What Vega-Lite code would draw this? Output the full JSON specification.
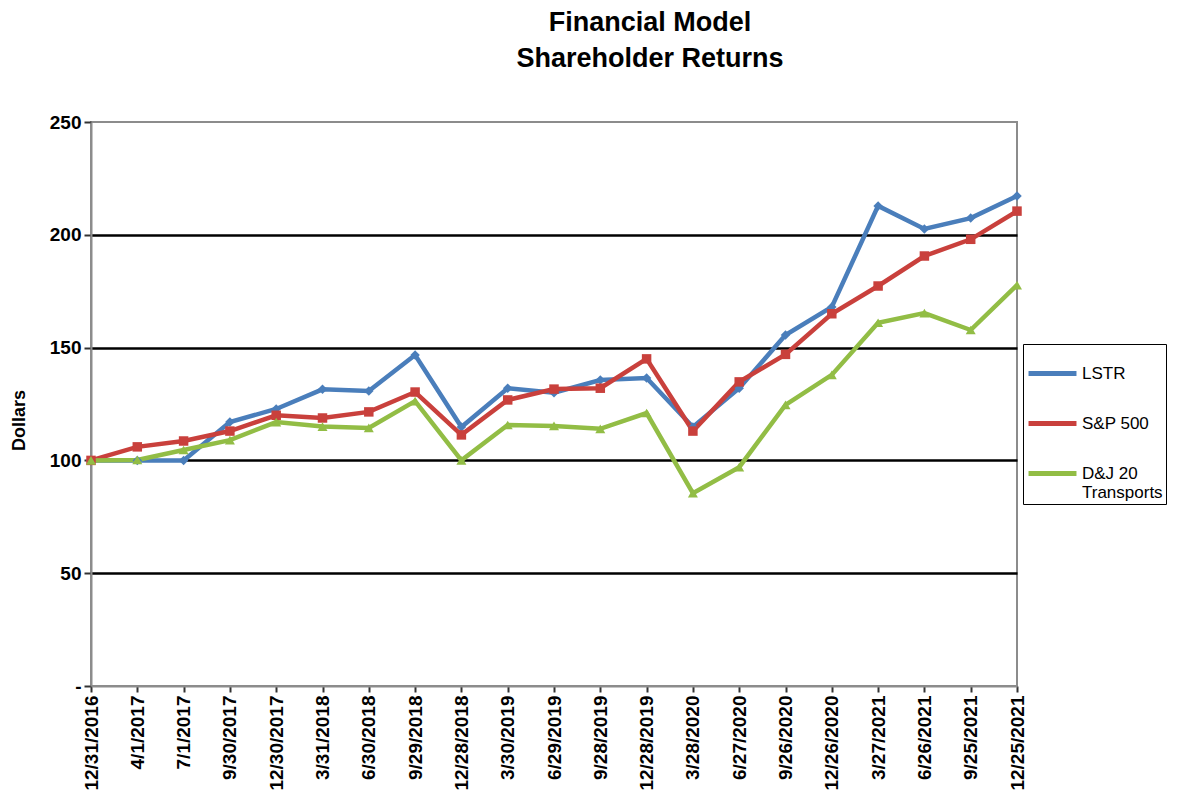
{
  "$schema": "https://vega.github.io/schema/vega-lite/v6.json",
  "autosize": {"type": "none"},
  "width": 926,
  "height": 564,
  "padding": {"left": 91, "top": 122, "right": 181, "bottom": 117},
  "background": "white",
  "config": {
    "font": "Liberation Sans",
    "view": {"stroke": "#8c8c8c", "strokeWidth": 2}
  },
  "title": {
    "text": ["Financial Model", "Shareholder Returns"],
    "font": "Liberation Sans",
    "fontSize": 27,
    "fontWeight": "bold",
    "color": "black",
    "lineHeight": 36,
    "anchor": "middle",
    "dx": 96,
    "offset": 40
  },
  "data": {
    "values": [
      {"date": "12/31/2016", "series": "LSTR", "value": 100},
      {"date": "4/1/2017", "series": "LSTR", "value": 100},
      {"date": "7/1/2017", "series": "LSTR", "value": 100},
      {"date": "9/30/2017", "series": "LSTR", "value": 117},
      {"date": "12/30/2017", "series": "LSTR", "value": 122.8},
      {"date": "3/31/2018", "series": "LSTR", "value": 131.5},
      {"date": "6/30/2018", "series": "LSTR", "value": 130.8},
      {"date": "9/29/2018", "series": "LSTR", "value": 146.7},
      {"date": "12/28/2018", "series": "LSTR", "value": 114.8},
      {"date": "3/30/2019", "series": "LSTR", "value": 132},
      {"date": "6/29/2019", "series": "LSTR", "value": 130},
      {"date": "9/28/2019", "series": "LSTR", "value": 135.6},
      {"date": "12/28/2019", "series": "LSTR", "value": 136.5},
      {"date": "3/28/2020", "series": "LSTR", "value": 114.8},
      {"date": "6/27/2020", "series": "LSTR", "value": 132},
      {"date": "9/26/2020", "series": "LSTR", "value": 155.6},
      {"date": "12/26/2020", "series": "LSTR", "value": 168},
      {"date": "3/27/2021", "series": "LSTR", "value": 212.8},
      {"date": "6/26/2021", "series": "LSTR", "value": 202.6},
      {"date": "9/25/2021", "series": "LSTR", "value": 207.4},
      {"date": "12/25/2021", "series": "LSTR", "value": 217.2},
      {"date": "12/31/2016", "series": "S&P 500", "value": 100},
      {"date": "4/1/2017", "series": "S&P 500", "value": 106},
      {"date": "7/1/2017", "series": "S&P 500", "value": 108.6},
      {"date": "9/30/2017", "series": "S&P 500", "value": 113},
      {"date": "12/30/2017", "series": "S&P 500", "value": 120},
      {"date": "3/31/2018", "series": "S&P 500", "value": 118.8},
      {"date": "6/30/2018", "series": "S&P 500", "value": 121.5},
      {"date": "9/29/2018", "series": "S&P 500", "value": 130.3},
      {"date": "12/28/2018", "series": "S&P 500", "value": 111.3},
      {"date": "3/30/2019", "series": "S&P 500", "value": 126.8},
      {"date": "6/29/2019", "series": "S&P 500", "value": 131.6},
      {"date": "9/28/2019", "series": "S&P 500", "value": 132},
      {"date": "12/28/2019", "series": "S&P 500", "value": 145},
      {"date": "3/28/2020", "series": "S&P 500", "value": 113},
      {"date": "6/27/2020", "series": "S&P 500", "value": 134.8},
      {"date": "9/26/2020", "series": "S&P 500", "value": 147},
      {"date": "12/26/2020", "series": "S&P 500", "value": 165},
      {"date": "3/27/2021", "series": "S&P 500", "value": 177.3},
      {"date": "6/26/2021", "series": "S&P 500", "value": 190.6},
      {"date": "9/25/2021", "series": "S&P 500", "value": 198},
      {"date": "12/25/2021", "series": "S&P 500", "value": 210.5},
      {"date": "12/31/2016", "series": "D&J 20 Transports", "value": 100},
      {"date": "4/1/2017", "series": "D&J 20 Transports", "value": 100.2},
      {"date": "7/1/2017", "series": "D&J 20 Transports", "value": 104.6},
      {"date": "9/30/2017", "series": "D&J 20 Transports", "value": 109},
      {"date": "12/30/2017", "series": "D&J 20 Transports", "value": 117},
      {"date": "3/31/2018", "series": "D&J 20 Transports", "value": 115},
      {"date": "6/30/2018", "series": "D&J 20 Transports", "value": 114.4},
      {"date": "9/29/2018", "series": "D&J 20 Transports", "value": 126.3},
      {"date": "12/28/2018", "series": "D&J 20 Transports", "value": 100},
      {"date": "3/30/2019", "series": "D&J 20 Transports", "value": 115.7},
      {"date": "6/29/2019", "series": "D&J 20 Transports", "value": 115.3},
      {"date": "9/28/2019", "series": "D&J 20 Transports", "value": 114},
      {"date": "12/28/2019", "series": "D&J 20 Transports", "value": 121},
      {"date": "3/28/2020", "series": "D&J 20 Transports", "value": 85.5},
      {"date": "6/27/2020", "series": "D&J 20 Transports", "value": 97},
      {"date": "9/26/2020", "series": "D&J 20 Transports", "value": 124.6},
      {"date": "12/26/2020", "series": "D&J 20 Transports", "value": 137.9},
      {"date": "3/27/2021", "series": "D&J 20 Transports", "value": 161},
      {"date": "6/26/2021", "series": "D&J 20 Transports", "value": 165.3},
      {"date": "9/25/2021", "series": "D&J 20 Transports", "value": 157.8},
      {"date": "12/25/2021", "series": "D&J 20 Transports", "value": 177.7}
    ]
  },
  "encoding": {
    "x": {
      "field": "date",
      "type": "ordinal",
      "sort": null,
      "scale": {"type": "point", "padding": 0},
      "axis": {
        "title": null,
        "labelAngle": -90,
        "labelFont": "Liberation Sans",
        "labelFontSize": 19,
        "labelFontWeight": "bold",
        "labelColor": "black",
        "labelPadding": 3,
        "labelOverlap": false,
        "domainColor": "#8c8c8c",
        "domainWidth": 2,
        "tickColor": "#333333",
        "tickWidth": 2,
        "tickSize": 6,
        "grid": false
      }
    },
    "y": {
      "field": "value",
      "type": "quantitative",
      "scale": {"domain": [0, 250], "nice": false, "zero": true},
      "axis": {
        "title": "Dollars",
        "titleFont": "Liberation Sans",
        "titleFontSize": 18,
        "titleFontWeight": "bold",
        "titleColor": "black",
        "titleX": -72,
        "titleY": 298,
        "titleAlign": "center",
        "titleBaseline": "middle",
        "titleAngle": -90,
        "values": [0, 50, 100, 150, 200, 250],
        "labelExpr": "datum.value == 0 ? '-' : datum.label",
        "labelFont": "Liberation Sans",
        "labelFontSize": 19,
        "labelFontWeight": "bold",
        "labelColor": "black",
        "labelPadding": 3,
        "domainColor": "#8c8c8c",
        "domainWidth": 2,
        "tickColor": "#333333",
        "tickWidth": 2,
        "tickSize": 7,
        "grid": true,
        "gridColor": {"condition": {"test": "datum.value == 0 || datum.value == 250", "value": "transparent"}, "value": "black"},
        "gridWidth": 2.5
      }
    },
    "color": {
      "field": "series",
      "type": "nominal",
      "sort": ["LSTR", "S&P 500", "D&J 20 Transports"],
      "scale": {"domain": ["LSTR", "S&P 500", "D&J 20 Transports"], "range": ["#4a7ebb", "#c9403c", "#92bd45"]},
      "legend": {
        "title": null,
        "orient": "none",
        "legendX": 932,
        "legendY": 222,
        "symbolType": "M -1 0 L 1 0",
        "symbolStrokeWidth": 5,
        "symbolSize": 2300,
        "labelFont": "Liberation Sans",
        "labelFontSize": 17,
        "labelColor": "black",
        "labelOffset": 3,
        "labelExpr": "datum.label == 'D&J 20 Transports' ? ['D&J 20', 'Transports'] : datum.label",
        "labelLimit": 200,
        "rowPadding": 13,
        "strokeColor": "black",
        "padding": 3,
        "fillColor": "white"
      }
    }
  },
  "layer": [
    {
      "mark": {"type": "line", "strokeWidth": 4.5}
    },
    {
      "transform": [{"filter": "datum.series == 'LSTR'"}],
      "mark": {"type": "point", "filled": true, "size": 90, "opacity": 1, "shape": "diamond"}
    },
    {
      "transform": [{"filter": "datum.series == 'S&P 500'"}],
      "mark": {"type": "point", "filled": true, "size": 90, "opacity": 1, "shape": "square"}
    },
    {
      "transform": [{"filter": "datum.series == 'D&J 20 Transports'"}],
      "mark": {"type": "point", "filled": true, "size": 100, "opacity": 1, "shape": "triangle-up"}
    }
  ]
}
